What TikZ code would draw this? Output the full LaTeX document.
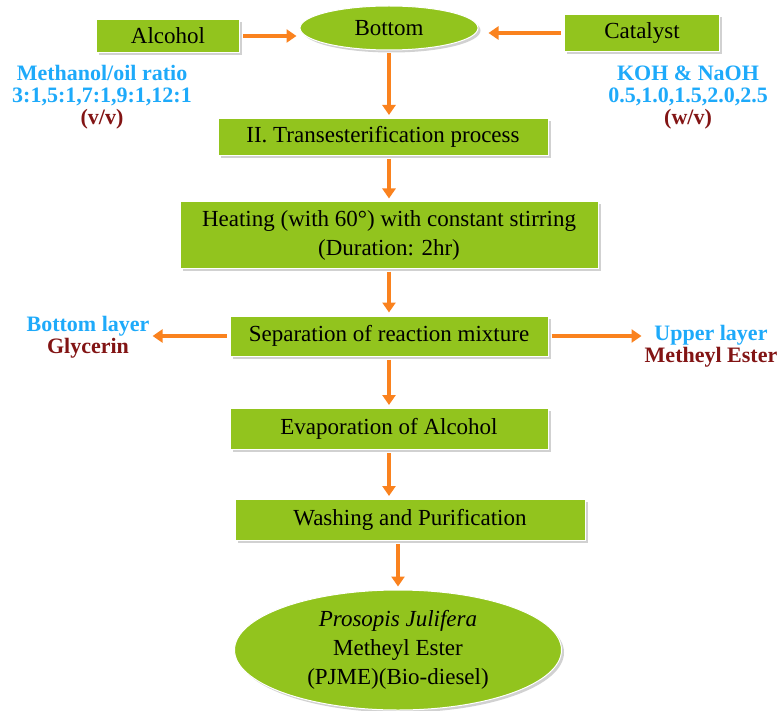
\documentclass[tikz,border=0pt]{standalone}
\usepackage{fontspec}
\setmainfont{Liberation Serif}
\usetikzlibrary{shapes.geometric,arrows.meta,shadows}
\definecolor{boxgreen}{RGB}{146,196,30}
\definecolor{arrorange}{RGB}{250,130,30}
\definecolor{lblblue}{RGB}{30,170,250}
\definecolor{lblred}{RGB}{130,20,20}
\begin{document}
\begin{tikzpicture}[x=1pt,y=-1pt,
	box/.style={rectangle, fill=boxgreen, draw=white, line width=1pt, inner sep=0pt, align=center,
		drop shadow={shadow xshift=2.5pt, shadow yshift=-2.5pt, fill=black!30, opacity=0.6},
		font=\fontsize{23}{29}\selectfont},
	oval/.style={box, ellipse},
	lbl/.style={align=center, text=lblblue, inner sep=0pt, font=\bfseries\fontsize{22}{22}\selectfont},
	flow/.style={draw=arrorange, line width=3.5pt, shorten <=3pt, shorten >=3pt,
		-{Triangle[length=10pt,width=13pt]}}]
	\useasboundingbox (0,0) rectangle (781,711);
	\node[box, minimum width=143pt, minimum height=33pt] (alcohol) at (168,36) {Alcohol};
	\node[oval, minimum width=178pt, minimum height=44pt] (bottom) at (389,28) {Bottom};
	\node[box, minimum width=155pt, minimum height=37pt] (catalyst) at (642,33) {Catalyst};
	\node[lbl] (ratio) at (102,97) {Methanol/oil ratio\\3:1,5:1,7:1,9:1,12:1\\\textcolor{lblred}{(v/v)}};
	\node[lbl] (koh) at (688,98) {KOH \& NaOH\\0.5,1.0,1.5,2.0,2.5\\\textcolor{lblred}{(w/v)}\hspace{20pt}};
	\node[box, minimum width=330pt, minimum height=37pt] (trans) at (383,137) {II. Transesterification process};
	\node[box, minimum width=418pt, minimum height=66pt] (heat) at (389,235) {Heating (with 60°) with constant stirring\\(Duration: 2hr)};
	\node[box, minimum width=318pt, minimum height=40pt] (sep) at (389,336) {Separation of reaction mixture};
	\node[lbl] (lower) at (88,337) {Bottom layer\\\textcolor{lblred}{Glycerin}};
	\node[lbl] (upper) at (711,346) {Upper layer\\\textcolor{lblred}{Metheyl Ester}};
	\node[box, minimum width=318pt, minimum height=41pt] (evap) at (389,429) {Evaporation of Alcohol};
	\node[box, minimum width=350pt, minimum height=41pt] (wash) at (410,520) {Washing and Purification};
	\node[oval, minimum width=327pt, minimum height=120pt] (pjme) at (398,650) {\textit{Prosopis Julifera}\\Metheyl Ester\\(PJME)(Bio-diesel)};
	\draw[flow] (alcohol.east) -- (alcohol.east -| bottom.west);
	\draw[flow, shorten >=10pt] (catalyst.west) -- (catalyst.west -| bottom.east);
	\draw[flow] (bottom.south) -- (bottom.south |- trans.north);
	\draw[flow] (heat.north |- trans.south) -- (heat.north);
	\draw[flow] (heat.south) -- (sep.north);
	\draw[flow] (sep.west) -- (sep.west -| lower.east);
	\draw[flow] (sep.east) -- (sep.east -| upper.west);
	\draw[flow] (sep.south) -- (evap.north);
	\draw[flow] (evap.south) -- (evap.south |- wash.north);
	\draw[flow] (pjme.north |- wash.south) -- (pjme.north);
\end{tikzpicture}
\end{document}
